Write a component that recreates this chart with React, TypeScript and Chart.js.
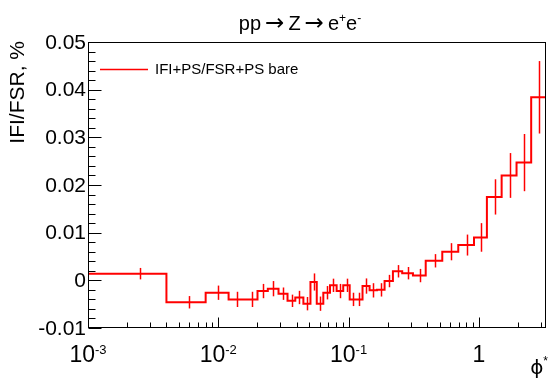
import React, { useEffect, useRef } from "react";
import { Chart, registerables } from "chart.js";

Chart.register(...registerables);

// phi* bin edges
const binEdges = [
  0.001, 0.004, 0.008, 0.012, 0.016, 0.02, 0.024, 0.029, 0.034, 0.039, 0.045,
  0.051, 0.057, 0.064, 0.072, 0.081, 0.091, 0.102, 0.114, 0.128, 0.145, 0.165,
  0.189, 0.219, 0.258, 0.312, 0.391, 0.524, 0.695, 0.918, 1.153, 1.496, 1.947,
  2.522, 3.277,
];

// IFI/FSR ratio per bin (%)
const ratioValues = [
  0.0014, -0.0046, -0.0026, -0.004, -0.004, -0.00225, -0.00175, -0.0028,
  -0.0043, -0.0036, -0.0049, -0.00035, -0.0049, -0.0026, -0.00105, -0.00225,
  -0.00105, -0.004, -0.004, -0.0012, -0.0021, -0.002, -0.00015, 0.0019, 0.0015,
  0.001, 0.0041, 0.006, 0.0074, 0.009, 0.0175, 0.022, 0.0247, 0.0384,
];

// statistical errors per bin
const ratioErrors = [
  0.0012, 0.0013, 0.0015, 0.0016, 0.0016, 0.0015, 0.0016, 0.0013, 0.0013,
  0.0014, 0.0014, 0.0018, 0.0015, 0.0014, 0.0014, 0.0015, 0.0014, 0.0014,
  0.0014, 0.0016, 0.0015, 0.0014, 0.0013, 0.0013, 0.0013, 0.0014, 0.0014,
  0.0018, 0.0022, 0.003, 0.0037, 0.0047, 0.006, 0.0076,
];

const yMin = -0.01;
const yMax = 0.05;
const xMin = 0.001;
const xMax = 3.277;

const yTickValues = [-0.01, 0, 0.01, 0.02, 0.03, 0.04, 0.05];
const yTickLabels = ["-0.01", "0", "0.01", "0.02", "0.03", "0.04", "0.05"];
const xTickValues = [0.001, 0.01, 0.1, 1];
const xTickBases = ["10", "10", "10", "1"];
const xTickExps = ["-3", "-2", "-1", ""];

const titleParts = ["pp", "\u2192", "Z", "\u2192", "e", "+", "e", "-"];
const yAxisTitle = "IFI/FSR, %";
const xAxisTitle = ["\u03d5", "*"];
const legendLabel = "IFI+PS/FSR+PS bare";

const FONT = '"Liberation Sans", Arial, Helvetica, sans-serif';
const SYM = '"DejaVu Sans", "Liberation Sans", sans-serif';
const RED = "#ff0000";

type Seg = { t: string; size: number; dy: number; f?: string; gap?: number };

function drawRich(ctx: CanvasRenderingContext2D, segs: Seg[], x: number, y: number, align: "left" | "center" | "right") {
  let total = 0;
  const widths = segs.map((s) => {
    ctx.font = `${s.size}px ${s.f || FONT}`;
    const w = ctx.measureText(s.t).width + (s.gap || 0);
    total += w;
    return w;
  });
  let cx = align === "left" ? x : align === "center" ? x - total / 2 : x - total;
  ctx.textAlign = "left";
  ctx.textBaseline = "alphabetic";
  segs.forEach((s, i) => {
    ctx.font = `${s.size}px ${s.f || FONT}`;
    ctx.fillText(s.t, cx, y + s.dy);
    cx += widths[i];
  });
}

const rootOverlay = {
  id: "rootOverlay",
  afterDatasetsDraw(chart: any) {
    const ctx: CanvasRenderingContext2D = chart.ctx;
    const xs = chart.scales.x;
    const ys = chart.scales.y;
    const area = chart.chartArea;
    ctx.save();

    // error bars
    ctx.strokeStyle = RED;
    ctx.lineWidth = 1.5;
    for (let i = 0; i < ratioValues.length; i++) {
      const xc = (binEdges[i] + binEdges[i + 1]) / 2;
      const px = Math.round(xs.getPixelForValue(xc)) + 0.5;
      const y1 = ys.getPixelForValue(ratioValues[i] - ratioErrors[i]);
      const y2 = ys.getPixelForValue(ratioValues[i] + ratioErrors[i]);
      ctx.beginPath();
      ctx.moveTo(px, Math.min(y1, area.bottom));
      ctx.lineTo(px, Math.max(y2, area.top));
      ctx.stroke();
    }

    // frame
    const L = Math.round(area.left) + 0.5;
    const R = Math.round(area.right) - 0.5;
    const T = Math.round(area.top) + 0.5;
    const B = Math.round(area.bottom) - 0.5;
    ctx.strokeStyle = "#000";
    ctx.lineWidth = 1;
    ctx.strokeRect(L, T, R - L, B - T);

    // y ticks
    ctx.beginPath();
    for (let k = 0; k <= 30; k++) {
      const v = yMin + k * 0.002;
      const py = Math.round(ys.getPixelForValue(v)) + 0.5;
      const len = k % 5 === 0 ? 13 : 7;
      ctx.moveTo(L, py);
      ctx.lineTo(L + len, py);
    }
    ctx.stroke();

    // x ticks (log)
    ctx.beginPath();
    for (let d = -3; d <= 0; d++) {
      for (let m = 1; m <= 9; m++) {
        const v = m * Math.pow(10, d);
        if (v < xMin - 1e-12 || v > xMax) continue;
        const px = Math.round(xs.getPixelForValue(v)) + 0.5;
        const len = m === 1 ? 10 : 5;
        ctx.moveTo(px, B);
        ctx.lineTo(px, B - len);
      }
    }
    ctx.stroke();

    // y tick labels
    ctx.fillStyle = "#000";
    ctx.font = `21px ${FONT}`;
    ctx.textAlign = "right";
    ctx.textBaseline = "middle";
    yTickValues.forEach((v, i) => {
      ctx.fillText(yTickLabels[i], area.left - 2, ys.getPixelForValue(v) + 1);
    });

    // x tick labels
    xTickValues.forEach((v, i) => {
      const px = xs.getPixelForValue(v);
      const segs: Seg[] = [{ t: xTickBases[i], size: 23, dy: 0 }];
      if (xTickExps[i]) segs.push({ t: xTickExps[i], size: 13, dy: -8 });
      drawRich(ctx, segs, px, 362, "center");
    });

    // x axis title
    drawRich(
      ctx,
      [
        { t: xAxisTitle[0], size: 20, dy: 0, f: SYM },
        { t: xAxisTitle[1], size: 12, dy: -9 },
      ],
      548,
      374,
      "right"
    );

    // y axis title
    ctx.save();
    ctx.translate(24, 41);
    ctx.rotate(-Math.PI / 2);
    ctx.font = `21px ${FONT}`;
    ctx.textAlign = "right";
    ctx.textBaseline = "alphabetic";
    ctx.fillText(yAxisTitle, 0, 0);
    ctx.restore();

    // title
    drawRich(
      ctx,
      [
        { t: titleParts[0], size: 20, dy: 0, gap: 4 },
        { t: titleParts[1], size: 23, dy: 0, f: SYM, gap: 4 },
        { t: titleParts[2], size: 20, dy: 0, gap: 4 },
        { t: titleParts[3], size: 23, dy: 0, f: SYM, gap: 4 },
        { t: titleParts[4], size: 20, dy: 0 },
        { t: titleParts[5], size: 12, dy: -8 },
        { t: titleParts[6], size: 20, dy: 0 },
        { t: titleParts[7], size: 12, dy: -8 },
      ],
      300,
      30,
      "center"
    );

    // legend
    ctx.strokeStyle = RED;
    ctx.lineWidth = 1.5;
    ctx.beginPath();
    ctx.moveTo(100, 69.5);
    ctx.lineTo(148, 69.5);
    ctx.stroke();
    ctx.fillStyle = "#000";
    ctx.font = `15px ${FONT}`;
    ctx.textAlign = "left";
    ctx.textBaseline = "middle";
    ctx.fillText(legendLabel, 155, 70);

    ctx.restore();
  },
};

export default function App() {
  const ref = useRef<HTMLCanvasElement>(null);
  useEffect(() => {
    const canvas = ref.current;
    if (!canvas) return;
    const points = [
      { x: binEdges[0], y: yMin },
      ...ratioValues.map((v, i) => ({ x: binEdges[i], y: v })),
      { x: binEdges[binEdges.length - 1], y: ratioValues[ratioValues.length - 1] },
    ];
    const chart = new Chart(canvas, {
      type: "line",
      data: {
        datasets: [
          {
            label: legendLabel,
            data: points,
            borderColor: RED,
            borderWidth: 2,
            stepped: true,
            pointRadius: 0,
            fill: false,
          },
        ],
      },
      options: {
        animation: false,
        responsive: false,
        devicePixelRatio: 1,
        events: [],
        layout: { padding: { left: 88, top: 42, right: 3, bottom: 51 } },
        plugins: {
          legend: { display: false },
          tooltip: { enabled: false },
          title: { display: false },
        },
        scales: {
          x: { type: "logarithmic", min: xMin, max: xMax, display: false },
          y: { type: "linear", min: yMin, max: yMax, display: false },
        },
      },
      plugins: [rootOverlay],
    });
    return () => chart.destroy();
  }, []);
  return (
    <div style={{ position: "absolute", left: 0, top: 0, width: 549, height: 379, background: "#fff" }}>
      <canvas ref={ref} width={549} height={379} style={{ display: "block" }} />
    </div>
  );
}
